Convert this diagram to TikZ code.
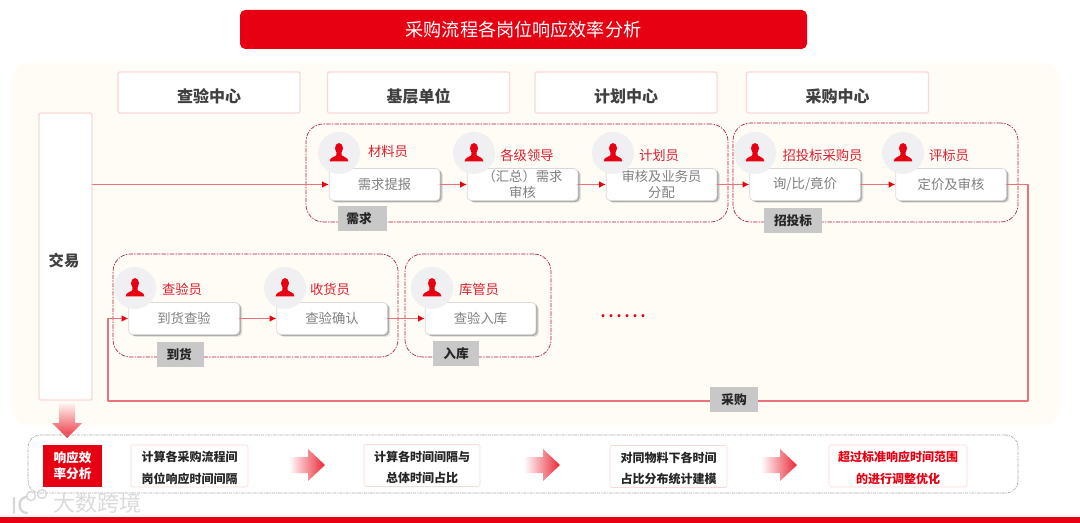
\documentclass[tikz,border=0pt]{standalone}
\usepackage{fontspec}
\setmainfont{Noto Sans CJK SC}
\usetikzlibrary{arrows.meta,shadows}
\definecolor{mainred}{HTML}{E60012}
\definecolor{linered}{HTML}{E9737A}
\definecolor{panelbg}{HTML}{FFFBF5}
\definecolor{softpink}{HTML}{FBD9D5}
\definecolor{dashred}{HTML}{A81E3A}
\definecolor{tagbg}{HTML}{C8C8C8}
\definecolor{circlebg}{HTML}{F0F0F2}
\definecolor{rolered}{HTML}{D9202F}
\tikzset{
  headbox/.style={draw=softpink, line width=1pt, fill=white, rounded corners=1.5pt, inner sep=0pt, minimum width=136.5pt, minimum height=30.75pt, text height=15.6pt, text depth=0pt, font=\fontsize{12}{14}\selectfont\bfseries, text=black!75},
  cardbox/.style={draw=black!15, line width=0.5pt, fill=white, rounded corners=3pt, inner sep=0pt, minimum width=83pt, minimum height=24pt, text=black!50, align=center, font=\fontsize{10}{12}\selectfont, drop shadow={shadow xshift=2.2pt, shadow yshift=-1.7pt, fill=black!25, opacity=.4}, drop shadow={shadow xshift=1.3pt, shadow yshift=-1pt, fill=black!45, opacity=.6}},
  groupbox/.style={draw=dashred, line width=0.5pt, dash pattern=on 3pt off 1.2pt on 0.8pt off 1.2pt, rounded corners=13pt, inner sep=0pt},
  tagbox/.style={fill=tagbg, inner sep=0pt, minimum height=18.75pt, font=\fontsize{9.5}{12}\selectfont\bfseries, text=black!85},
  rolelabel/.style={text=rolered, inner sep=0pt, font=\fontsize{10}{12}\selectfont},
  notebox/.style={draw=softpink, line width=0.5pt, fill=white, rounded corners=1.5pt, inner sep=0pt, minimum height=31.5pt, align=center, font=\fontsize{9}{16.1}\selectfont\bfseries, text=black!85},
  flowline/.style={draw=linered, line width=1.1pt},
  flowarrow/.style={flowline, -{Latex[length=5pt,width=5pt,color=mainred]}}
}
\newcommand{\notestrut}{\rule{0pt}{10.6pt}}
\newcommand{\personicon}[3]{%
  \node (#1) [circle, fill=circlebg, inner sep=0pt, minimum size=31.5pt] at (#2,#3) {};
  \begin{scope}[shift={(#2,#3)}]
    \fill[mainred] (0,-4.7) ellipse [x radius=4, y radius=5.3];
    \fill[mainred] (-2.4,-1) -- (2.4,-1) -- (2.8,2.5) .. controls (5,4.5) and (9,4) .. (9.3,8.3) -- (-9.3,8.3) .. controls (-9,4) and (-5,4.5) .. (-2.8,2.5) -- cycle;
  \end{scope}
}
\newcommand{\fadearrow}[2]{%
  \begin{scope}[shift={(#1,#2)}]
    \shade[left color=white, right color=mainred!85, draw=none] (0,-8) -- (19,-8) -- (19,-16) -- (36,0) -- (19,16) -- (19,8) -- (0,8) -- cycle;
  \end{scope}
}
\begin{document}
\begin{tikzpicture}[x=0.75pt, y=-0.75pt, line cap=round, line join=round]
  \useasboundingbox (0,0) rectangle (1080,523);
  % title and background panel
  \node (title) [fill=mainred, rounded corners=4pt, inner sep=0pt, minimum width=425.25pt, minimum height=29.25pt, text=white, font=\fontsize{13.6}{16}\selectfont] at (523.5,29.5) {采购流程各岗位响应效率分析};
  \node (panel) [fill=panelbg, rounded corners=12pt, inner sep=0pt, minimum width=786pt, minimum height=271.5pt] at (536,244) {};
  % department headers
  \node (hcheck) [headbox] at (209,92.5) {查验中心};
  \node (hbase) [headbox] at (418.5,92.5) {基层单位};
  \node (hplan) [headbox] at (626,92.5) {计划中心};
  \node (hbuy) [headbox] at (837.5,92.5) {采购中心};
  \node (jiaoyi) [draw=softpink, line width=1pt, fill=white, rounded corners=1.5pt, inner sep=0pt, minimum width=39.75pt, minimum height=215.25pt] at (65.5,256.5) {};
  \node (jiaoyitxt) [inner sep=0pt, font=\fontsize{11.5}{14}\selectfont\bfseries, text=black!75] at (64,261) {交易};
  % dashed groups
  \node (gneed) [groupbox, minimum width=316.5pt, minimum height=73.5pt] at (517,173) {};
  \node (gbid) [groupbox, minimum width=213.75pt, minimum height=74.25pt] at (875.5,172.5) {};
  \node (garrive) [groupbox, minimum width=213.75pt, minimum height=77.25pt] at (255.5,305.5) {};
  \node (gstore) [groupbox, minimum width=109.5pt, minimum height=77.25pt] at (478,305.5) {};
  % process cards
  \node (c1) [cardbox] at (384.5,184.5) {需求提报};
  \node (c2) [cardbox, font=\fontsize{10}{11.6}\selectfont] at (522.5,184.5) {（汇总）需求\\审核};
  \node (c3) [cardbox, font=\fontsize{10}{11.6}\selectfont] at (661.5,184.5) {审核及业务员\\分配};
  \node (c4) [cardbox] at (805,184.5) {询/比/竟价};
  \node (c5) [cardbox] at (951,184.5) {定价及审核};
  \node (c6) [cardbox] at (184,318.5) {到货查验};
  \node (c7) [cardbox] at (332,318.5) {查验确认};
  \node (c8) [cardbox] at (480.5,318.5) {查验入库};
  % persons
  \personicon{p1}{339}{153}
  \personicon{p2}{474}{153}
  \personicon{p3}{613}{153}
  \personicon{p4}{755}{153}
  \personicon{p5}{903}{153}
  \personicon{p6}{135}{288}
  \personicon{p7}{285}{288}
  \personicon{p8}{432}{288}
  \node (r1) [rolelabel] at (388,151) {材料员};
  \node (r2) [rolelabel] at (527,155) {各级领导};
  \node (r3) [rolelabel] at (659,155) {计划员};
  \node (r4) [rolelabel] at (822.5,155) {招投标采购员};
  \node (r5) [rolelabel] at (949,155) {评标员};
  \node (r6) [rolelabel] at (182,289) {查验员};
  \node (r7) [rolelabel] at (330,289) {收货员};
  \node (r8) [rolelabel] at (479,289) {库管员};
  % connectors
  \coordinate (turnR) at (1028,401);
  \coordinate (turnL) at (108,401);
  \draw[flowarrow] (jiaoyi.east |- c1.west) -- (c1.west);
  \draw[flowarrow] (c1) -- (c2);
  \draw[flowarrow] (c2) -- (c3);
  \draw[flowarrow] (c3) -- (c4);
  \draw[flowarrow] (c4) -- (c5);
  \draw[flowarrow] (c5.east) -| (turnR) -- (turnL) |- (c6.west);
  \draw[flowarrow] (c6) -- (c7);
  \draw[flowarrow] (c7) -- (c8);
  % group tags
  \node (tneed) [tagbox, minimum width=36.75pt] at (362.5,219) {需求\hspace*{5.2pt}};
  \node (tbid) [tagbox, minimum width=43.5pt] at (793,221) {招投标};
  \node (tarrive) [tagbox, minimum width=35.25pt] at (180.5,354.5) {到货\hspace*{2pt}};
  \node (tstore) [tagbox, minimum width=34.5pt] at (456,353.5) {入库};
  \node (tbuy) [tagbox, minimum width=36pt] at (734,399.5) {采购};
  \node (more) [text=mainred, inner sep=0pt, font=\fontsize{10.5}{12}\selectfont\bfseries\addfontfeature{LetterSpace=22}] at (623,316) {......};
  % analysis row
  \shade[top color=panelbg, bottom color=mainred!80, draw=none] (59,402) -- (75,402) -- (75,423) -- (82,423) -- (67,438) -- (52,423) -- (59,423) -- cycle;
  \node (grow) [draw=black!35, line width=0.5pt, dash pattern=on 2pt off 1pt on 0.6pt off 1pt, rounded corners=9pt, inner sep=0pt, minimum width=742.5pt, minimum height=43.5pt] at (523,464) {};
  \node (nred) [fill=mainred, inner sep=0pt, minimum width=44.25pt, minimum height=31.5pt, align=center, text=white, font=\fontsize{9.5}{12}\selectfont\bfseries] at (72.5,466) {响应效\\率分析};
  \node (n1) [notebox, minimum width=87.75pt] at (189.5,466) {\notestrut 计算各采购流程间\\岗位响应时间间隔};
  \node (n2) [notebox, minimum width=87pt] at (422,465.5) {\notestrut 计算各时间间隔与\\总体时间占比};
  \node (n3) [notebox, minimum width=87.75pt] at (668.5,466.5) {\notestrut 对同物料下各时间\\占比分布统计建模};
  \node (n4) [notebox, minimum width=103.5pt, text=mainred] at (898,466) {\notestrut 超过标准响应时间范围\\的进行调整优化};
  \fadearrow{289}{465}
  \fadearrow{524}{465}
  \fadearrow{761}{465}
  % watermark and bottom bar
  \node (mark) [inner sep=0pt, text=black!14, font=\fontsize{16.5}{18}\selectfont] at (97,503) {大数跨境};
  \draw[black!16, line width=1.8pt] (14,498) -- (14,513) (27,497) .. controls (17,497) and (17,513) .. (27,513);
  \draw[black!16, line width=1pt] (31,496) circle [radius=4.5] (42,494) circle [radius=4.5];
  \fill[mainred] (0,516.5) rectangle (1080,523);
\end{tikzpicture}
\end{document}
